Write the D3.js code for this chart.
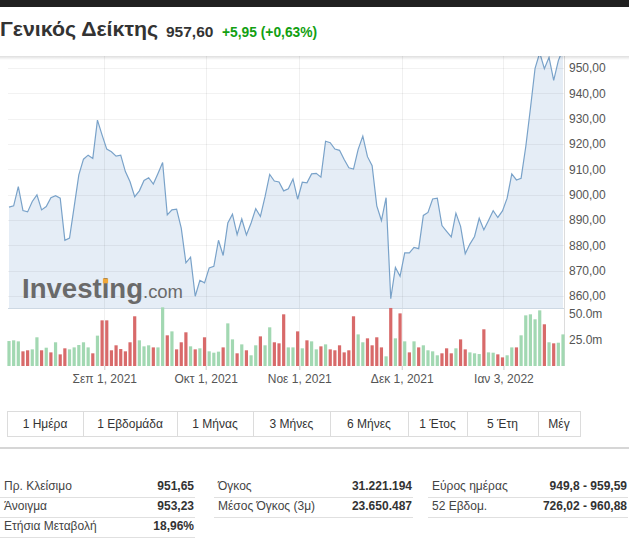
<!DOCTYPE html>
<html><head><meta charset="utf-8">
<script src="https://cdn.jsdelivr.net/npm/d3@7"></script>
<style>
html,body{margin:0;padding:0;background:#fff;overflow:hidden}
svg{display:block;font-family:"Liberation Sans",Arial,sans-serif}
</style></head><body>
<svg id="c" width="629" height="539"></svg>
<script>
// ---------- DATA ----------
const titleName = "Γενικός Δείκτης";
const lastPrice = "957,60";
const change = "+5,95 (+0,63%)";

const closes = [
895.1,895.6,903.2,893.7,893.2,897.3,899.9,894.0,895.3,898.8,
899.6,898.6,882.0,882.9,895.3,907.8,914.0,915.6,914.3,929.4,
923.5,918.0,916.9,915.2,915.6,909.1,905.1,899.2,901.5,905.6,
906.7,904.2,908.4,912.7,892.0,894.0,894.3,886.8,873.1,875.3,
859.9,866.2,865.2,871.1,871.7,882.0,876.0,888.8,892.3,884.2,
890.4,884.1,888.8,894.5,891.4,899.2,908.0,905.4,905.0,901.5,
902.3,906.2,898.2,904.9,904.7,908.2,908.4,906.9,921.1,920.5,
918.0,917.5,913.9,910.6,910.1,917.9,923.1,915.0,911.4,895.6,
889.8,898.8,858.9,871.3,867.8,877.0,877.0,879.2,878.7,891.8,
893.0,898.3,898.6,887.8,885.5,883.3,892.7,887.5,876.7,880.5,
883.5,890.7,886.1,889.8,893.7,891.0,893.6,898.6,908.2,905.8,
906.5,918.9,934.0,949.9,956.0,949.7,954.2,945.1,952.9,957.6
];
// volume in millions
const volumes = [
24.0,24.7,23.7,14.1,15.1,16.0,27.6,15.1,17.6,13.1,
22.8,11.2,17.0,16.0,17.9,20.2,22.8,17.9,12.2,29.2,
43.9,43.9,15.1,19.9,16.3,14.1,22.8,47.8,24.7,18.9,
19.9,17.9,17.9,56.4,29.5,33.3,16.0,22.8,32.4,18.9,
16.0,17.0,27.6,14.1,12.8,13.8,17.9,41.0,25.6,12.2,
20.8,15.1,10.3,19.9,28.5,19.9,37.2,22.8,21.8,49.7,
17.9,17.9,33.3,17.0,24.7,23.7,16.0,18.9,20.8,16.0,
15.1,19.9,13.1,15.1,47.8,30.4,22.8,26.6,19.9,27.6,
17.9,9.3,55.8,26.6,50.6,23.7,13.1,23.7,17.9,19.9,
15.1,14.1,10.3,12.2,17.0,12.2,17.0,25.6,16.0,13.1,
12.2,11.5,35.3,13.1,12.8,11.2,8.3,10.3,17.9,17.9,
29.5,48.7,49.7,44.9,53.5,40.1,22.8,21.8,22.4,30.4
];
// 1 = up day (green), 0 = down day (red)
const volUp = [
1,1,1,0,0,1,1,0,1,0, 1,0,0,1,1,1,1,1,0,1,
0,0,0,0,0,0,0,0,1,1, 1,0,1,1,0,1,0,0,0,1,
0,1,0,1,1,1,0,1,1,0, 1,0,1,1,0,1,1,0,0,0,
1,1,0,1,0,1,1,0,1,0, 0,0,0,0,0,1,1,0,0,0,
0,1,0,1,0,1,0,1,0,1, 1,1,1,0,0,0,1,0,0,1,
1,1,0,1,1,0,0,1,1,0, 1,1,1,1,1,0,1,0,1,1
];
const priceTicks = [950,940,930,920,910,900,890,880,870,860];
const volTicks = [50,25];
const xTickIndex = [20.47,42.25,62.35,84.36,106.2];
const xTickLabels = ["Σεπ 1, 2021","Οκτ 1, 2021","Νοε 1, 2021","Δεκ 1, 2021","Ιαν 3, 2022"];
const rangeLabels = ["1 Ημέρα","1 Εβδομάδα","1 Μήνας","3 Μήνες","6 Μήνες","1 Έτος","5 Έτη","Μέγ"];
const statLabels1 = ["Πρ. Κλείσιμο","Άνοιγμα","Ετήσια Μεταβολή"];
const statValues1 = ["951,65","953,23","18,96%"];
const statLabels2 = ["Όγκος","Μέσος Όγκος (3μ)"];
const statValues2 = ["31.221.194","23.650.487"];
const statLabels3 = ["Εύρος ημέρας","52 Εβδομ."];
const statValues3 = ["949,8 - 959,59","726,02 - 960,88"];

// ---------- LAYOUT ----------
const svg = d3.select("#c");
const plotL = 8, plotR = 564, priceTop = 56, priceBot = 308, volBot = 366;
const x = d3.scaleLinear().domain([0, closes.length - 1]).range([9, 563]);
const y = d3.scaleLinear().domain([860, 950]).range([296, 68]);
const yv = d3.scaleLinear().domain([0, 50]).range([volBot, 314]);

const defs = svg.append("defs");
defs.append("clipPath").attr("id", "pc").append("rect")
  .attr("x", plotL).attr("y", priceTop).attr("width", plotR - plotL).attr("height", priceBot - priceTop);
const sh = defs.append("linearGradient").attr("id", "sh").attr("x1", 0).attr("x2", 0).attr("y1", 0).attr("y2", 1);
sh.append("stop").attr("offset", 0).attr("stop-color", "#000").attr("stop-opacity", 0.13);
sh.append("stop").attr("offset", 1).attr("stop-color", "#000").attr("stop-opacity", 0);

// area (semi-transparent so grid shows through)
const area = d3.area().x((d, i) => x(i)).y0(priceBot).y1(d => y(d));
svg.append("path").datum(closes).attr("clip-path", "url(#pc)")
  .attr("d", area).attr("fill", "rgb(110,155,205)").attr("fill-opacity", 0.18);

// grid
svg.append("g").selectAll("line").data(priceTicks).join("line")
  .attr("x1", plotL).attr("x2", plotR)
  .attr("y1", d => Math.round(y(d)) + 0.5).attr("y2", d => Math.round(y(d)) + 0.5)
  .attr("stroke", "#000").attr("stroke-opacity", 0.05);
svg.append("g").selectAll("line").data(xTickIndex).join("line")
  .attr("x1", d => Math.round(x(d)) + 0.5).attr("x2", d => Math.round(x(d)) + 0.5)
  .attr("y1", priceTop).attr("y2", volBot)
  .attr("stroke", "#000").attr("stroke-opacity", 0.06);

// watermark
const wm = svg.append("g");
const wmText = wm.append("text").attr("x", 22).attr("y", 298)
  .attr("font-size", 27.5).attr("font-weight", "bold").attr("fill", "#6a6a6a")
  .attr("textLength", 121).attr("lengthAdjust", "spacingAndGlyphs").text("Investing");
wm.append("text").attr("x", 143).attr("y", 298)
  .attr("font-size", 18.5).attr("fill", "#6a6a6a")
  .attr("textLength", 40).attr("lengthAdjust", "spacingAndGlyphs").text(".com");
try {
  const ex = wmText.node().getExtentOfChar(6);
  wm.append("rect").attr("x", ex.x + ex.width / 2 - 2.6).attr("y", 278.5)
    .attr("width", 5.2).attr("height", 4.8).attr("fill", "#f1a83a");
} catch (e) {}

// line
svg.append("path").datum(closes).attr("clip-path", "url(#pc)")
  .attr("d", d3.line().x((d, i) => x(i)).y(d => y(d)))
  .attr("fill", "none").attr("stroke", "#79a2c9").attr("stroke-width", 1.2);

// borders
svg.append("line").attr("x1", plotL).attr("x2", plotR).attr("y1", priceBot + 0.5).attr("y2", priceBot + 0.5)
  .attr("stroke", "#cdd8e3");
svg.append("line").attr("x1", plotR + 0.5).attr("x2", plotR + 0.5).attr("y1", priceTop).attr("y2", volBot)
  .attr("stroke", "#dcdcdc");

// volume bars
svg.append("g").selectAll("rect").data(volumes).join("rect")
  .attr("x", (d, i) => x(i) - 1.6).attr("width", 3.2)
  .attr("y", d => yv(d)).attr("height", d => volBot - yv(d))
  .attr("fill", (d, i) => volUp[i] ? "#a2d8b2" : "#d86a6a");

// price axis
const fmt = d => d3.format(".2f")(d).replace(".", ",");
const ya = svg.append("g").attr("transform", `translate(${plotR},0)`)
  .call(d3.axisRight(y).tickValues(priceTicks).tickFormat(fmt).tickSize(0).tickPadding(5));
ya.select(".domain").remove();
ya.selectAll("text").attr("fill", "#555").attr("font-size", 12).attr("font-family", "Liberation Sans, Arial, sans-serif");

// volume axis
const va = svg.append("g").attr("transform", `translate(${plotR},0)`)
  .call(d3.axisRight(yv).tickValues(volTicks).tickFormat(d => d3.format(".1f")(d) + "m").tickSize(0).tickPadding(5));
va.select(".domain").remove();
va.selectAll("text").attr("fill", "#555").attr("font-size", 12).attr("font-family", "Liberation Sans, Arial, sans-serif");

// x axis
const xa = svg.append("g").attr("transform", `translate(0,${volBot})`)
  .call(d3.axisBottom(x).tickValues(xTickIndex).tickFormat((d, i) => xTickLabels[i]).tickSize(4).tickPadding(4));
xa.select(".domain").remove();
xa.selectAll("line").attr("stroke", "#ccc");
xa.selectAll("text").attr("fill", "#555").attr("font-size", 12).attr("font-family", "Liberation Sans, Arial, sans-serif");

// header
svg.append("rect").attr("x", 0).attr("y", 0).attr("width", 629).attr("height", priceTop).attr("fill", "#fff");
svg.append("rect").attr("x", 0).attr("y", priceTop).attr("width", 629).attr("height", 4).attr("fill", "url(#sh)");
svg.append("rect").attr("x", 0).attr("y", 0).attr("width", 629).attr("height", 7).attr("fill", "#202020");
svg.append("text").attr("x", 0).attr("y", 36).attr("font-size", 20).attr("font-weight", 600)
  .attr("fill", "#333").attr("textLength", 158).attr("lengthAdjust", "spacingAndGlyphs").text(titleName);
svg.append("text").attr("x", 166).attr("y", 37).attr("font-size", 15.5).attr("font-weight", "bold")
  .attr("fill", "#333").text(lastPrice);
svg.append("text").attr("x", 222).attr("y", 37).attr("font-size", 13.8).attr("font-weight", "bold")
  .attr("fill", "#12a012").text(change);

// range buttons
const btnEdges = [7, 83, 177, 253, 330, 408, 467, 538, 580];
const bt = 411, bh = 25;
const btn = svg.append("g");
btn.append("rect").attr("x", btnEdges[0] + 0.5).attr("y", bt + 0.5)
  .attr("width", btnEdges[btnEdges.length - 1] - btnEdges[0]).attr("height", bh)
  .attr("fill", "#fff").attr("stroke", "#dcdcdc");
btn.selectAll("line").data(btnEdges.slice(1, -1)).join("line")
  .attr("x1", d => d + 0.5).attr("x2", d => d + 0.5).attr("y1", bt).attr("y2", bt + bh)
  .attr("stroke", "#dcdcdc");
btn.selectAll("text").data(rangeLabels).join("text")
  .attr("x", (d, i) => (btnEdges[i] + btnEdges[i + 1]) / 2).attr("y", bt + 17)
  .attr("text-anchor", "middle").attr("font-size", 12).attr("fill", "#333").text(d => d);
svg.append("line").attr("x1", 0).attr("x2", 629).attr("y1", 448).attr("y2", 448)
  .attr("stroke", "#c9c9c9").attr("stroke-width", 1.5);

// stats table
function col(labels, values, x0, x1) {
  const g = svg.append("g");
  labels.forEach((l, i) => {
    const yy = 490 + i * 20;
    g.append("text").attr("x", x0).attr("y", yy).attr("font-size", 12).attr("fill", "#444").text(l);
    g.append("text").attr("x", x1).attr("y", yy).attr("font-size", 12).attr("font-weight", "bold")
      .attr("text-anchor", "end").attr("fill", "#333").text(values[i]);
    g.append("line").attr("x1", x0 - 4).attr("x2", x1 + 1).attr("y1", yy + 7.5).attr("y2", yy + 7.5)
      .attr("stroke", "#e0e0e0");
  });
}
col(statLabels1, statValues1, 4, 194);
col(statLabels2, statValues2, 218, 412);
col(statLabels3, statValues3, 432, 627);
</script>
</body></html>
